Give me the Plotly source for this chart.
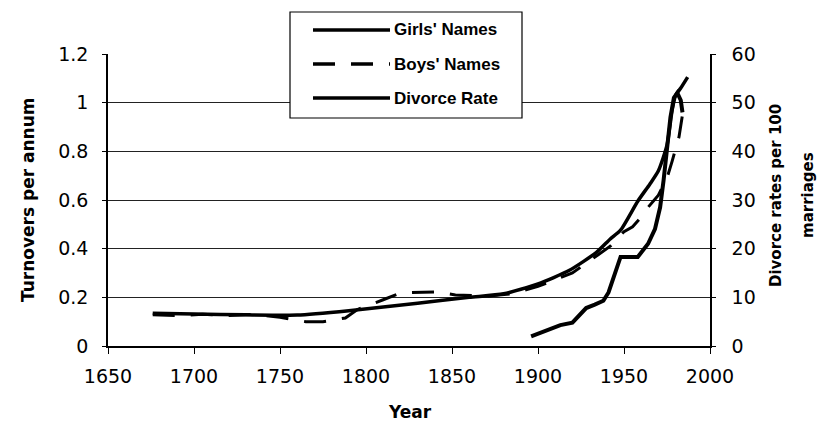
import plotly.graph_objects as go

# Girls' names turnover (left axis)
girls_year = [1676, 1700, 1730, 1760, 1790, 1830, 1860, 1880, 1900, 1918, 1934, 1942,
              1948, 1958, 1965, 1970, 1975, 1978, 1980, 1983, 1987]
girls_val = [0.135, 0.132, 0.128, 0.127, 0.145, 0.176, 0.20, 0.215, 0.255, 0.31, 0.385, 0.44,
             0.476, 0.595, 0.665, 0.72, 0.825, 0.97, 1.03, 1.06, 1.105]

# Boys' names turnover (left axis)
boys_year = [1676, 1690, 1705, 1720, 1735, 1750, 1765, 1775, 1788, 1795, 1810, 1820, 1840,
             1852, 1870, 1885, 1900, 1920, 1935, 1942, 1950, 1955, 1960, 1964, 1970, 1975,
             1978, 1982, 1984, 1987]
boys_val = [0.128, 0.125, 0.13, 0.125, 0.13, 0.118, 0.10, 0.10, 0.115, 0.15, 0.19, 0.218, 0.222,
            0.21, 0.205, 0.215, 0.245, 0.30, 0.375, 0.41, 0.47, 0.49, 0.53, 0.57, 0.62, 0.69,
            0.76, 0.86, 0.95, 1.0]

# Divorce rate per 100 marriages (right axis)
div_year = [1896, 1904, 1913, 1920, 1928, 1933, 1938, 1941, 1944, 1948, 1958, 1964, 1968,
            1971, 1973, 1975, 1977, 1979, 1981, 1983, 1984]
div_val = [2.0, 3.0, 4.3, 4.8, 7.8, 8.5, 9.3, 11, 14, 18.3, 18.3, 21, 24,
           28.5, 34, 41, 47, 51, 52, 50.5, 48]

legend_names = ["Girls' Names", "Boys' Names", "Divorce Rate"]

L, R, T, B = 108, 710, 54, 346
W, H = 823, 423
DASH = "22px,16px"


def px_x(p):
    return (p - L) / (R - L)


def px_y(p):
    return (B - p) / (B - T)


fig = go.Figure()
fig.add_trace(go.Scatter(x=girls_year, y=girls_val, mode="lines", name=legend_names[0],
                         line=dict(color="black", width=3.5, shape="spline", smoothing=0.6)))
fig.add_trace(go.Scatter(x=boys_year, y=boys_val, mode="lines", name=legend_names[1],
                         line=dict(color="black", width=3, dash=DASH)))
fig.add_trace(go.Scatter(x=div_year, y=div_val, mode="lines", name=legend_names[2], yaxis="y2",
                         line=dict(color="black", width=4)))

# hand drawn legend box, like the original
shapes = [dict(type="rect", xref="paper", yref="paper", x0=px_x(290), x1=px_x(522),
               y0=px_y(118), y1=px_y(12), fillcolor="white", line=dict(color="black", width=1.2))]
annotations = []
sample_dash = [None, "dash", None]
for i, name in enumerate(legend_names):
    yy = px_y(30 + i * 34)
    shapes.append(dict(type="line", xref="paper", yref="paper", x0=px_x(313), x1=px_x(390),
                       y0=yy, y1=yy, line=dict(color="black", width=3.5,
                                               dash=DASH if sample_dash[i] else "solid")))
    annotations.append(dict(text=name, xref="paper", yref="paper", x=px_x(392), y=yy,
                            xanchor="left", yanchor="middle", showarrow=False,
                            font=dict(family="Liberation Sans, Arial", size=17, color="black",
                                      weight="bold")))

title_font = dict(family="DejaVu Sans", size=17, color="black", weight="bold")
annotations += [
    dict(text="Year", xref="paper", yref="paper", x=px_x(410), y=px_y(412), showarrow=False,
         xanchor="center", yanchor="middle", font=title_font),
    dict(text="Turnovers per annum", xref="paper", yref="paper", x=px_x(28), y=px_y(200),
         showarrow=False, textangle=-90, xanchor="center", yanchor="middle", font=title_font),
    dict(text="Divorce rates per 100", xref="paper", yref="paper", x=px_x(776), y=px_y(196),
         showarrow=False, textangle=-90, xanchor="center", yanchor="middle",
         font=dict(title_font, size=15)),
    dict(text="marriages", xref="paper", yref="paper", x=px_x(808), y=px_y(195),
         showarrow=False, textangle=-90, xanchor="center", yanchor="middle",
         font=dict(title_font, size=15)),
]

tick_font = dict(family="DejaVu Sans", size=19, color="black")

fig.update_layout(
    width=W, height=H,
    margin=dict(l=L, r=W - R, t=T, b=H - B, pad=0),
    paper_bgcolor="white", plot_bgcolor="white",
    showlegend=False,
    shapes=shapes, annotations=annotations,
    xaxis=dict(range=[1650, 2000], dtick=50, tick0=1650, showgrid=False, zeroline=False,
               showline=True, linecolor="black", linewidth=1.5, ticks="outside", ticklen=6,
               tickcolor="black", tickfont=tick_font, ticklabelstandoff=6),
    yaxis=dict(range=[0, 1.2], dtick=0.2, showgrid=True, gridcolor="#222", gridwidth=1,
               zeroline=False, showline=True, linecolor="black", linewidth=1.5,
               ticks="outside", ticklen=4, tickcolor="black", tickfont=tick_font,
               ticklabelstandoff=10),
    yaxis2=dict(range=[0, 60], dtick=10, overlaying="y", side="right", showgrid=False,
                zeroline=False, showline=True, linecolor="black", linewidth=1.5,
                ticks="outside", ticklen=4, tickcolor="black", tickfont=tick_font,
                ticklabelstandoff=12),
)

# the page's default body margin would push the figure off by 8px
fig.write_html("out.html", config={"displayModeBar": False},
               post_script="document.body.style.margin='0';")
